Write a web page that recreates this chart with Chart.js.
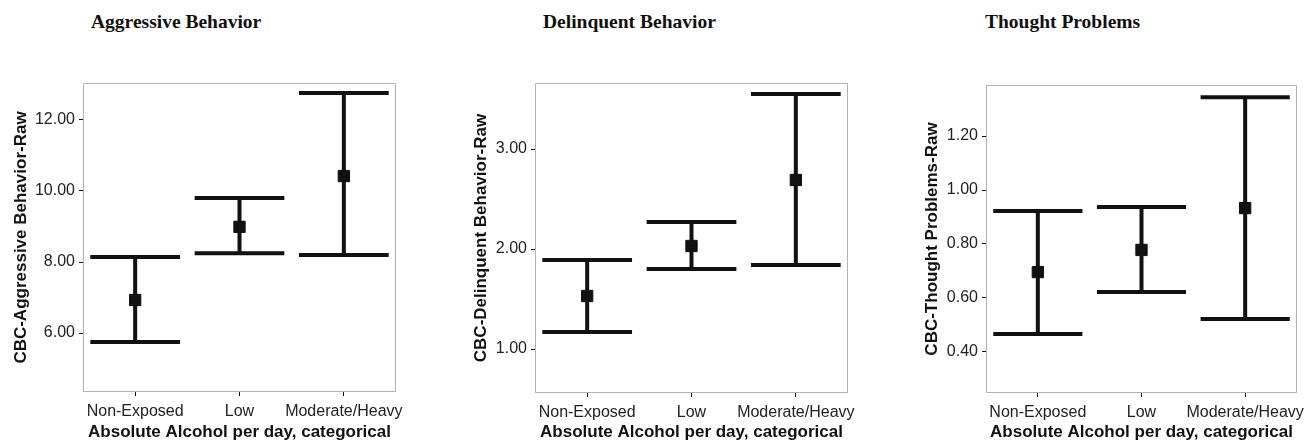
<!DOCTYPE html>
<html>
<head>
<meta charset="utf-8">
<script src="https://cdn.jsdelivr.net/npm/chart.js@4"></script>
<style>
  html, body { margin: 0; padding: 0; background: #fff; }
  body { width: 1306px; height: 444px; position: relative; overflow: hidden; }
  .panel { position: absolute; top: 0; height: 444px; }
  .ttl {
    position: absolute; top: 12px; margin: 0;
    font: bold 19.5px/19.5px 'Liberation Serif', 'Times New Roman', serif;
    color: #111; white-space: nowrap;
  }
</style>
</head>
<body>
<div class="ttl" style="left:91px">Aggressive Behavior</div>
<div class="ttl" style="left:543px">Delinquent Behavior</div>
<div class="ttl" style="left:985px">Thought Problems</div>

<div class="panel" style="left:0;width:420px"><canvas id="ch-aggr"></canvas></div>
<div class="panel" style="left:460px;width:410px"><canvas id="ch-delq"></canvas></div>
<div class="panel" style="left:911px;width:395px"><canvas id="ch-thought"></canvas></div>

<script>
// ── Data ───────────────────────────────────────────────────────────────────────
const groups = ['Non-Exposed', 'Low', 'Moderate/Heavy'];
const xTitle = 'Absolute Alcohol per day, categorical';

// Aggressive behavior: mean and 95% CI
const aggrMean  = [6.93, 8.99, 10.42];
const aggrLow   = [5.75, 8.25, 8.20];
const aggrHigh  = [8.14, 9.80, 12.76];
const aggrTicks = [6, 8, 10, 12];

// Delinquent behavior
const delqMean  = [1.53, 2.03, 2.69];
const delqLow   = [1.17, 1.80, 1.84];
const delqHigh  = [1.89, 2.27, 3.55];
const delqTicks = [1, 2, 3];

// Thought problems
const thMean  = [0.696, 0.778, 0.933];
const thLow   = [0.467, 0.622, 0.522];
const thHigh  = [0.922, 0.937, 1.344];
const thTicks = [0.4, 0.6, 0.8, 1.0, 1.2];

// ── Shared bits ────────────────────────────────────────────────────────────────
const C = {
  ink:   '#111',
  tick:  '#222',
  frame: '#666',
  sans:  "'Liberation Sans', Arial, sans-serif"
};
const CAP = 0.43;   // half width of whisker caps, in category units

// plot box (SPSS style dotted frame)
const frame = {
  id: 'frame',
  afterDatasetsDraw(chart) {
    const { ctx, chartArea: a } = chart;
    ctx.save();
    ctx.strokeStyle = C.frame;
    ctx.lineWidth = 1;
    ctx.setLineDash([1, 1]);
    ctx.strokeRect(a.left + 0.5, a.top + 0.5, a.right - a.left - 1, a.bottom - a.top - 1);
    ctx.restore();
  }
};

// whiskers as one broken line: vertical, top cap, bottom cap per group
function whiskers(low, high) {
  const pts = [];
  groups.forEach((_, i) => {
    pts.push({ x: i, y: low[i] }, { x: i, y: high[i] }, { x: i, y: null });
    pts.push({ x: i - CAP, y: high[i] }, { x: i + CAP, y: high[i] }, { x: i, y: null });
    pts.push({ x: i - CAP, y: low[i] }, { x: i + CAP, y: low[i] }, { x: i, y: null });
  });
  return pts;
}

function mk(id, o) {
  return new Chart(document.getElementById(id), {
    type: 'line',
    data: {
      datasets: [
        {
          data: whiskers(o.low, o.high),
          borderColor: C.ink, borderWidth: 4,
          pointRadius: 0, spanGaps: false, tension: 0,
          borderCapStyle: 'butt'
        },
        {
          data: o.mean.map((m, i) => ({ x: i, y: m })),
          showLine: false,
          pointStyle: 'rect', pointRadius: 8,
          pointBackgroundColor: C.ink, pointBorderColor: C.ink, pointBorderWidth: 1
        }
      ]
    },
    options: {
      responsive: true, maintainAspectRatio: false, animation: false,
      layout: { padding: { top: o.top, right: o.right, left: 0, bottom: 0 } },
      plugins: { legend: { display: false }, tooltip: { enabled: false } },
      scales: {
        x: {
          type: 'linear', min: -0.5, max: 2.5,
          afterBuildTicks: s => { s.ticks = groups.map((_, i) => ({ value: i })); },
          afterFit: s => { s.height = o.xh; s.paddingLeft = 0; s.paddingRight = 0; },
          grid: { drawOnChartArea: false, drawTicks: true, tickLength: 4, color: C.ink },
          border: { display: false },
          ticks: {
            color: C.tick, padding: 6, maxRotation: 0, autoSkip: false,
            font: { family: C.sans, size: 16 },
            callback: v => groups[v]
          },
          title: {
            display: true, text: xTitle, color: C.ink,
            padding: { top: 0, bottom: 1 },
            font: { family: C.sans, size: 17, weight: 'bold' }
          }
        },
        y: {
          min: o.min, max: o.max,
          afterBuildTicks: s => { s.ticks = o.ticks.map(v => ({ value: v })); },
          afterFit: s => { s.width = o.yw; },
          grid: { drawOnChartArea: false, drawTicks: true, tickLength: 4, color: C.ink },
          border: { display: false },
          ticks: {
            color: C.tick, padding: 4,
            font: { family: C.sans, size: 16 },
            callback: v => v.toFixed(2)
          },
          title: {
            display: true, text: o.yTitle, color: C.ink,
            padding: { top: o.ytp, bottom: 0 },
            font: { family: C.sans, size: 17, weight: 'bold' }
          }
        }
      }
    },
    plugins: [frame]
  });
}

// ── Panels ─────────────────────────────────────────────────────────────────────
mk('ch-aggr', {
  mean: aggrMean, low: aggrLow, high: aggrHigh, ticks: aggrTicks,
  min: 4.34, max: 13.04, yTitle: 'CBC-Aggressive Behavior-Raw',
  top: 83, right: 24, xh: 52, yw: 83, ytp: 11
});
mk('ch-delq', {
  mean: delqMean, low: delqLow, high: delqHigh, ticks: delqTicks,
  min: 0.56, max: 3.66, yTitle: 'CBC-Delinquent Behavior-Raw',
  top: 83, right: 22, xh: 51, yw: 75, ytp: 11
});
mk('ch-thought', {
  mean: thMean, low: thLow, high: thHigh, ticks: thTicks,
  min: 0.248, max: 1.389, yTitle: 'CBC-Thought Problems-Raw',
  top: 85, right: 8, xh: 51, yw: 75, ytp: 11
});
</script>
</body>
</html>
